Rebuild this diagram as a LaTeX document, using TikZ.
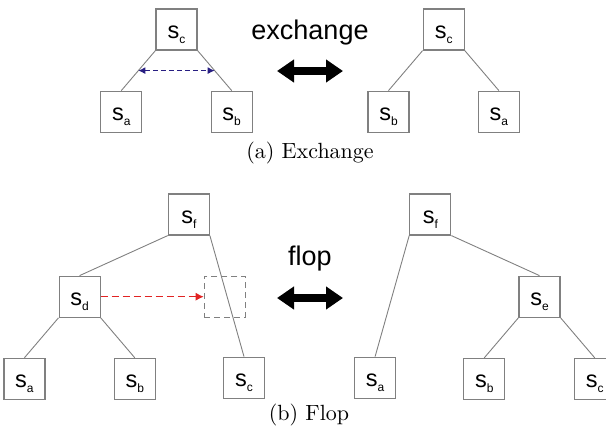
\documentclass[tikz,border=0pt]{standalone}
\usepackage{fontspec}
\newfontfamily\arial{Liberation Sans}
\usetikzlibrary{positioning, arrows.meta}
\definecolor{boxgray}{RGB}{128,128,128}
\definecolor{navy}{RGB}{40,30,130}
\definecolor{flopred}{RGB}{225,35,35}
\newcommand{\sname}[1]{s\raisebox{-5pt}{\fontsize{12}{12}\selectfont #1}}

\begin{document}
\begin{tikzpicture}[x=1pt, y=-1pt, node distance=40pt and 13pt, box/.style={
        rectangle,
        draw=boxgray,
        line width=1.2pt,
        minimum size=41pt,
        inner sep=0pt,
        text height=17pt,
        text depth=0pt,
        font=\arial\fontsize{23.5}{23.5}\selectfont
    }, ghost/.style={
        box,
        dash pattern=on 6pt off 4pt
    }, link/.style={
        draw=boxgray, line width=0.9pt
    }, xchg/.style={
        draw=navy, line width=1pt, dash pattern=on 5pt off 3pt,
        {Latex[length=7pt,width=7pt]}-{Latex[length=7pt,width=7pt]}
    }, flopmove/.style={
        draw=flopred, line width=1pt, dash pattern=on 7pt off 4pt,
        -{Latex[length=8pt,width=8pt]}
    }, bigarrow/.style={
        line width=8pt,
        {Triangle[length=17pt,width=22pt]}-{Triangle[length=17pt,width=22pt]}
    }, opword/.style={
        anchor=base, font=\arial\fontsize{27}{27}\selectfont
    }, captext/.style={
        font=\normalsize, scale=2.2
    }]
    \useasboundingbox (0,0) rectangle (606,432);

    % (a) exchange
    \node (ec) [box] at (176.5,29.5) {\sname{c}};
    \node (ea) [box, below left=of ec] {\sname{a}};
    \node (eb) [box, below right=of ec] {\sname{b}};
    \draw [link] (ec.south west) -- coordinate[midway] (el) (ea.north);
    \draw [link] (ec.south east) -- coordinate[midway] (er) (eb.north);
    \draw [xchg] (el) -- (er);

    \node (xword) [opword] at (310,39) {exchange};
    \coordinate (xl) at (277,71);
    \coordinate (xr) at (343,71);
    \draw [bigarrow] (xl) -- (xr);

    \node (ec2) [box] at (443.7,29.5) {\sname{c}};
    \node (eb2) [box, below left=of ec2] {\sname{b}};
    \node (ea2) [box, below right=of ec2] {\sname{a}};
    \draw [link] (ec2.south west) -- (eb2.north);
    \draw [link] (ec2.south east) -- (ea2.north);

    \node (capa) [captext] at (310,153) {(a) Exchange};

    % (b) flop
    \node (ff) [box] at (188.8,214.5) {\sname{f}};
    \node (fd) [box, below left=40pt and 67pt of ff] {\sname{d}};
    \node (fa) [box, below left=of fd] {\sname{a}};
    \node (fb) [box, below right=of fd] {\sname{b}};
    \node (fc) [box, below right=121pt and 13pt of ff] {\sname{c}};
    \node (hole) [ghost, right=103pt of fd] {};
    \draw [link] (ff.south west) -- (fd.north);
    \draw [link] (ff.south east) -- (fc.north);
    \draw [link] (fd.south west) -- (fa.north);
    \draw [link] (fd.south east) -- (fb.north);
    \draw [flopmove] (fd) -- (hole);

    \node (fword) [opword] at (310,265) {flop};
    \coordinate (yl) at (277,298);
    \coordinate (yr) at (343,298);
    \draw [bigarrow] (yl) -- (yr);

    \node (gf) [box] at (430.3,214.5) {\sname{f}};
    \node (ge) [box, below right=40pt and 67pt of gf] {\sname{e}};
    \node (ga) [box, below left=121pt and 13pt of gf] {\sname{a}};
    \node (gb) [box, below left=of ge] {\sname{b}};
    \node (gc) [box, below right=of ge] {\sname{c}};
    \draw [link] (gf.south west) -- (ga.north);
    \draw [link] (gf.south east) -- (ge.north);
    \draw [link] (ge.south west) -- (gb.north);
    \draw [link] (ge.south east) -- (gc.north);

    \node (capb) [captext] at (309,415) {(b) Flop};
\end{tikzpicture}
\end{document}
